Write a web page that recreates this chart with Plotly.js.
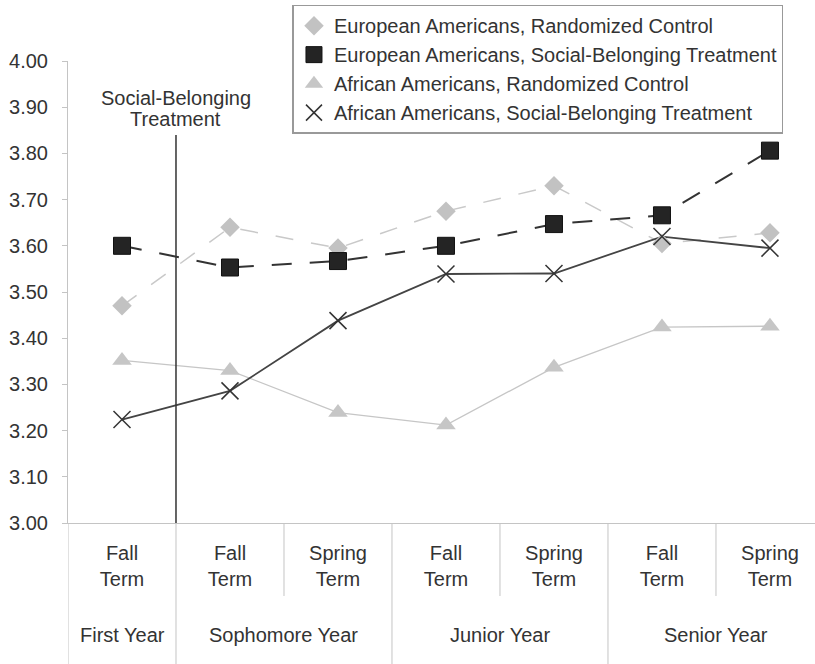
<!DOCTYPE html>
<html>
<head>
<meta charset="utf-8">
<script src="https://cdn.plot.ly/plotly-3.0.1.min.js"></script>
<style>
html,body{margin:0;padding:0;background:#fff;}
#chart{width:815px;height:664px;}
</style>
</head>
<body>
<div id="chart"></div>
<script>
// Category labels
const terms = ["Fall<br>Term", "Fall<br>Term", "Spring<br>Term", "Fall<br>Term", "Spring<br>Term", "Fall<br>Term", "Spring<br>Term"];
const years = ["First Year", "Sophomore Year", "Junior Year", "Senior Year"];
const yearCenters = [0, 1.5, 3.5, 5.5];
const yearDividers = [-0.5, 0.5, 2.5, 4.5];
const termDividers = [1.5, 3.5, 5.5];

// Series (GPA)
const euroControl = [3.47, 3.64, 3.595, 3.675, 3.73, 3.605, 3.628];
const euroTreatment = [3.60, 3.553, 3.567, 3.60, 3.647, 3.666, 3.806];
const afroControl = [3.352, 3.33, 3.239, 3.212, 3.337, 3.424, 3.426];
const afroTreatment = [3.224, 3.286, 3.438, 3.539, 3.540, 3.620, 3.595];

const seriesNames = [
  "European Americans, Randomized Control",
  "European Americans, Social-Belonging Treatment",
  "African Americans, Randomized Control",
  "African Americans, Social-Belonging Treatment"
];
const treatmentLabel = ["Social-Belonging", "Treatment"];

const xIdx = terms.map((_, i) => i);
const FONT = "'Liberation Sans', Arial, Helvetica, sans-serif";

const lineTraces = [
  {y: euroControl, line: {color: "#c9c9c9", width: 1.5, dash: "18px,18px"}},
  {y: euroTreatment, line: {color: "#333", width: 2, dash: "20px,18px"}},
  {y: afroControl, line: {color: "#c6c6c6", width: 1.3}},
  {y: afroTreatment, line: {color: "#444", width: 1.8}}
].map(t => Object.assign({x: xIdx, type: "scatter", mode: "lines", showlegend: false, hoverinfo: "skip"}, t));

const markerTraces = [
  {y: euroControl, name: seriesNames[0], marker: {symbol: "diamond", size: 15, color: "#c2c2c2"}},
  {y: euroTreatment, name: seriesNames[1], marker: {symbol: "square", size: 17, color: "#242424", line: {color: "#111", width: 1}}},
  {y: afroControl, name: seriesNames[2], marker: {symbol: "triangle-up", size: 17, color: "#c6c6c6"}},
  {y: afroTreatment, name: seriesNames[3], marker: {symbol: "x-thin-open", size: 17, color: "#333", line: {color: "#333", width: 1.5}}}
].map(t => Object.assign({x: xIdx, type: "scatter", mode: "markers"}, t));

const shapes = [];
yearDividers.forEach(v => shapes.push({type: "line", xref: "x", yref: "paper", x0: v, x1: v, y0: 0, y1: -0.32, line: {color: "#c4c4c4", width: 1}}));
termDividers.forEach(v => shapes.push({type: "line", xref: "x", yref: "paper", x0: v, x1: v, y0: 0, y1: -0.158, line: {color: "#c4c4c4", width: 1}}));
shapes.push({type: "line", xref: "x", yref: "y", x0: 0.5, x1: 0.5, y0: 3.0, y1: 3.84, line: {color: "#333", width: 1.5}});

const annotations = years.map((t, i) => ({
  text: t, xref: "x", yref: "paper", x: yearCenters[i], y: -0.2424,
  xanchor: "center", yanchor: "middle", showarrow: false,
  font: {family: FONT, size: 20, color: "#333"}
}));
[3.919, 3.874].forEach((yv, i) => annotations.push({
  text: treatmentLabel[i], xref: "x", yref: "y", x: 0.5, y: yv,
  xanchor: "center", yanchor: "middle", showarrow: false,
  font: {family: FONT, size: 20, color: "#333"}
}));

const layout = {
  width: 815, height: 664,
  margin: {l: 68, r: 0, t: 61, b: 141},
  paper_bgcolor: "#fff", plot_bgcolor: "#fff",
  font: {family: FONT, size: 20, color: "#333"},
  showlegend: true,
  legend: {
    x: 0.3005, y: 1.122, xanchor: "left", yanchor: "top",
    bgcolor: "#fff", bordercolor: "#999", borderwidth: 1.5,
    font: {family: FONT, size: 20, color: "#333"}
  },
  xaxis: {
    range: [-0.5, 6.417], tickvals: xIdx, ticktext: terms,
    showgrid: false, zeroline: false, showline: true, linecolor: "#c4c4c4", linewidth: 1,
    ticks: "outside", ticklen: 12, tickcolor: "rgba(0,0,0,0)",
    tickfont: {family: FONT, size: 20, color: "#333"}, fixedrange: true
  },
  yaxis: {
    range: [3, 4], dtick: 0.1, tick0: 3, tickformat: ".2f",
    showgrid: false, zeroline: false, showline: true, linecolor: "#c4c4c4", linewidth: 1,
    ticks: "outside", ticklen: 5, tickcolor: "#c4c4c4", ticklabelstandoff: 10,
    tickfont: {family: FONT, size: 20, color: "#333"}, fixedrange: true
  },
  shapes: shapes,
  annotations: annotations
};

Plotly.newPlot("chart", lineTraces.concat(markerTraces), layout, {staticPlot: true, displayModeBar: false});
</script>
</body>
</html>
